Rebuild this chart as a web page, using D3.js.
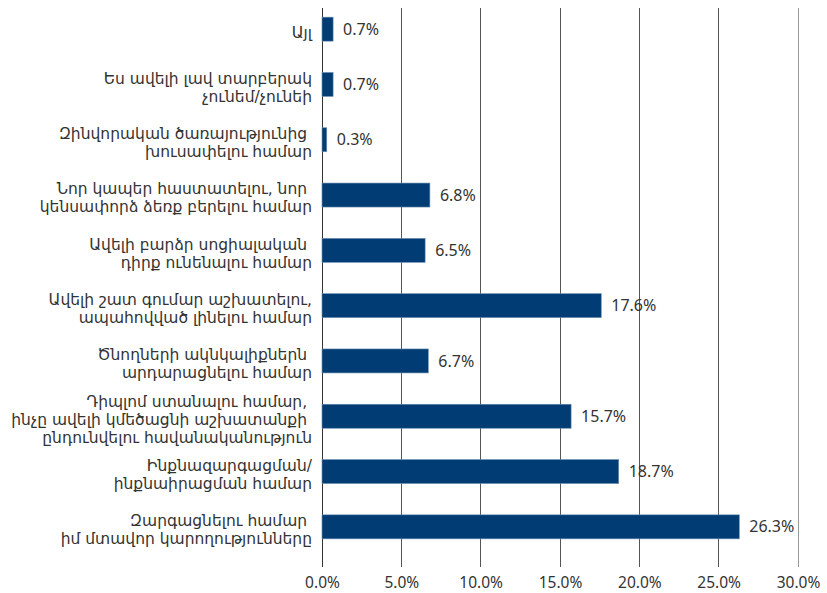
<!DOCTYPE html>
<html>
<head>
<meta charset="utf-8">
<script src="https://cdn.jsdelivr.net/npm/d3@7"></script>
<style>
  html, body { margin: 0; padding: 0; background: #fff; }
  svg { display: block; }
  text { font-family: "Noto Sans", "DejaVu Sans", sans-serif; fill: #333; }
  .cat { font-family: "DejaVu Sans", "Noto Sans", sans-serif; }
</style>
</head>
<body>
<svg id="chart" width="827" height="593"></svg>
<script>
const categories = [
  ["Այլ"],
  ["Ես ավելի լավ տարբերակ", "չունեմ/չունեի"],
  ["Զինվորական ծառայությունից ", "խուսափելու համար"],
  ["Նոր կապեր հաստատելու, նոր ", "կենսափորձ ձեռք բերելու համար"],
  ["Ավելի բարձր սոցիալական ", "դիրք ունենալու համար"],
  ["Ավելի շատ գումար աշխատելու,", "ապահովված լինելու համար"],
  ["Ծնողների ակնկալիքներն ", "արդարացնելու համար"],
  ["Դիպլոմ ստանալու համար, ", "ինչը ավելի կմեծացնի աշխատանքի ", "ընդունվելու հավանականություն"],
  ["Ինքնազարգացման/", "ինքնաիրացման համար"],
  ["Զարգացնելու համար ", "իմ մտավոր կարողությունները"]
];
const values = [0.7, 0.7, 0.3, 6.8, 6.5, 17.6, 6.7, 15.7, 18.7, 26.3];
const tickValues = [0, 5, 10, 15, 20, 25, 30];

const svg = d3.select("#chart");
const left = 322, right = 798, gridTop = 8, gridBottom = 567;

const x = d3.scaleLinear().domain([0, 30]).range([left, right]);
const y = d3.scaleBand().domain(d3.range(categories.length))
  .range([1.5, 554.5]).paddingInner(0.566).paddingOuter(0.283);

// gridlines
svg.append("g").selectAll("line").data(tickValues).join("line")
  .attr("x1", d => x(d)).attr("x2", d => x(d))
  .attr("y1", gridTop).attr("y2", gridBottom)
  .attr("stroke", d => d === 30 ? "#9a9a9a" : (d === 0 ? "#333" : "#555"))
  .attr("stroke-width", 1)
  .attr("shape-rendering", "crispEdges");

// bars
svg.append("g").selectAll("rect").data(values).join("rect")
  .attr("x", x(0))
  .attr("y", (d, i) => y(i))
  .attr("width", d => x(d) - x(0))
  .attr("height", y.bandwidth())
  .attr("fill", "#013d74")
  .attr("stroke", "#6f8fb3")
  .attr("stroke-width", 0.6);

// value labels
svg.append("g").selectAll("text").data(values).join("text")
  .attr("x", d => x(d) + 10)
  .attr("y", (d, i) => y(i) + y.bandwidth() / 2)
  .attr("dy", "0.35em")
  .attr("font-size", 16)
  .text(d => d.toFixed(1) + "%");

// category labels
const lineH = 18;
const lab = svg.append("g").selectAll("text").data(categories).join("text")
  .attr("class", "cat")
  .attr("text-anchor", "end")
  .attr("font-size", 15.5)
  .attr("xml:space", "preserve")
  .style("white-space", "pre")
  .attr("transform", (d, i) => `translate(${left - 10},${y(i) + y.bandwidth() / 2 + 3})`);
lab.selectAll("tspan").data(d => d.map((t, k) => ({t, k, n: d.length}))).join("tspan")
  .attr("x", 0)
  .attr("y", d => (d.k - (d.n - 1) / 2) * lineH)
  .attr("dy", "0.35em")
  .text(d => d.t);

// x axis tick labels
const xAxis = d3.axisBottom(x).tickValues(tickValues).tickSize(0).tickPadding(0)
  .tickFormat(d => d.toFixed(1) + "%");
const ax = svg.append("g").attr("transform", `translate(0,${gridBottom + 10})`).call(xAxis);
ax.select(".domain").remove();
ax.selectAll("text").attr("font-size", 15.5).attr("fill", "#333")
  .style("font-family", '"Noto Sans", "DejaVu Sans", sans-serif');
</script>
</body>
</html>
